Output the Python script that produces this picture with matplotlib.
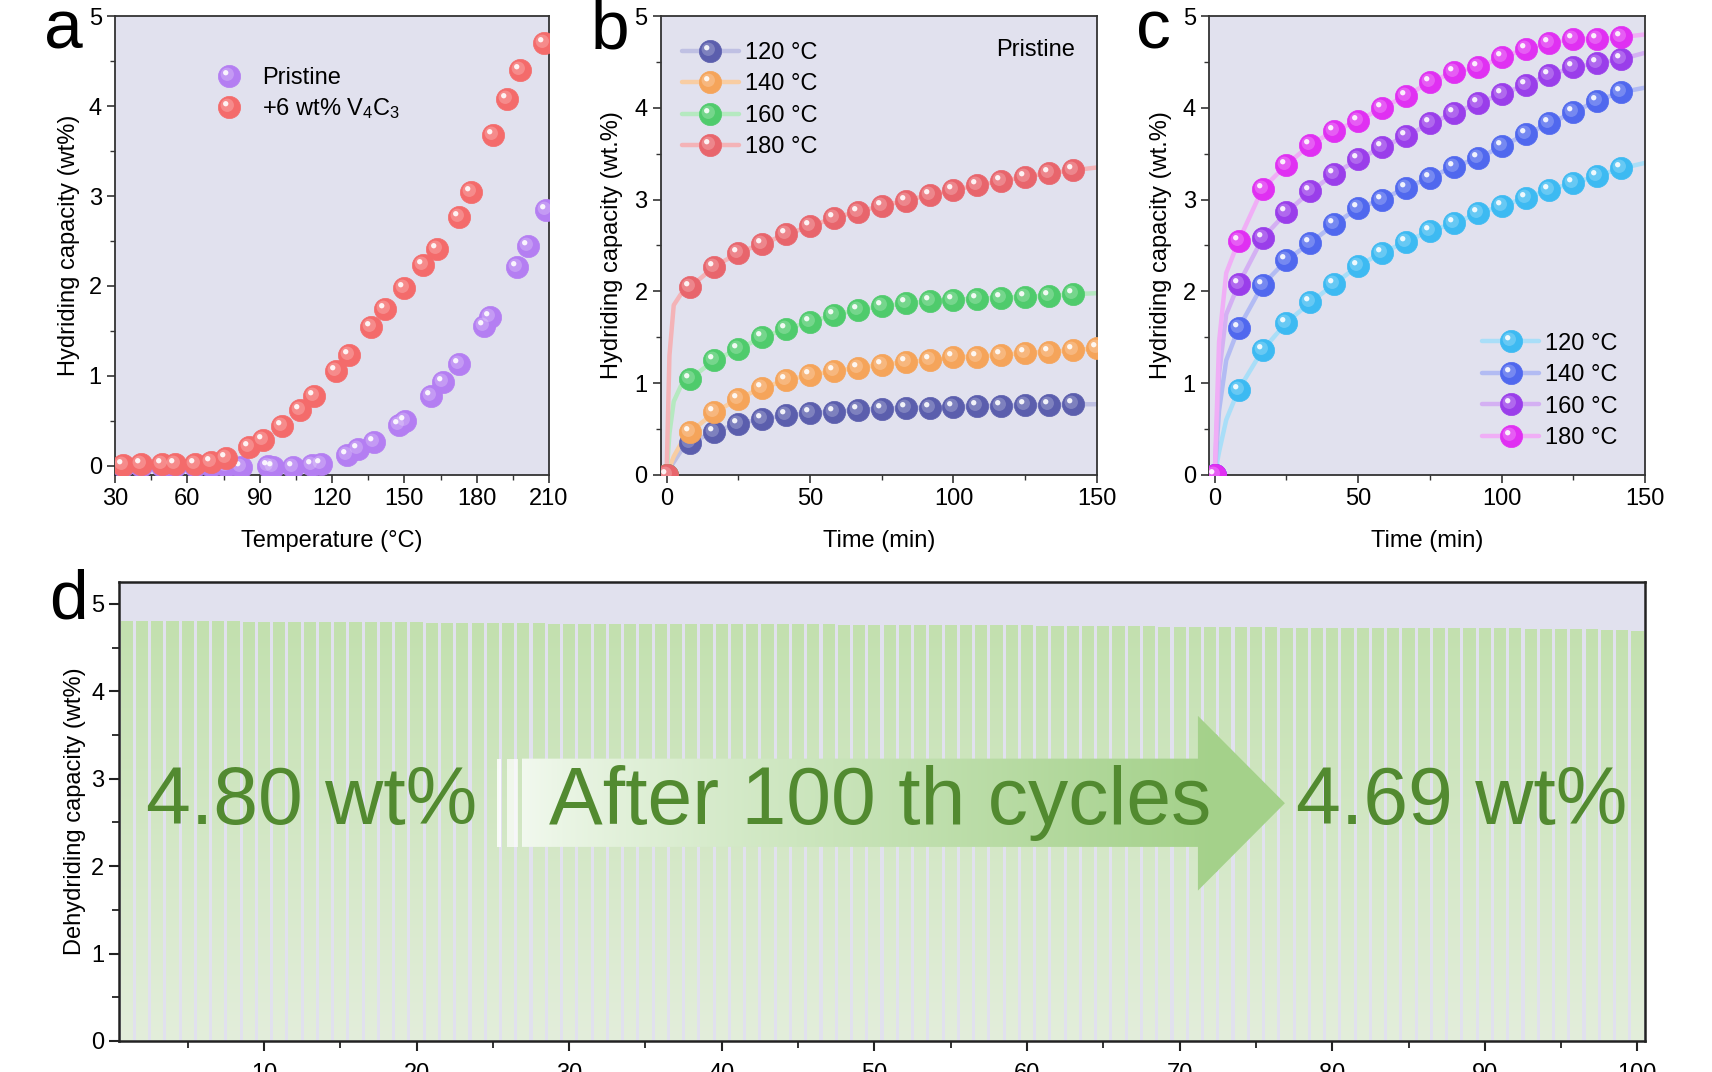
import numpy as np
import matplotlib
matplotlib.use("Agg")
import matplotlib.pyplot as plt
from matplotlib.path import Path
from matplotlib.patches import Polygon, Rectangle
from matplotlib.legend_handler import HandlerTuple
from matplotlib.ticker import MultipleLocator

plt.rcParams['font.family'] = ['Liberation Sans', 'DejaVu Sans']
plt.rcParams['mathtext.fontset'] = 'custom'
plt.rcParams['mathtext.rm'] = 'Liberation Sans'
plt.rcParams['mathtext.it'] = 'Liberation Sans'

# ---- panel a: temperature ramp ----
temp_pristine = [33.5, 40.8, 49.6, 54.7, 63.2, 70.0, 76.2, 82.2, 93.3, 95.5, 103.8, 111.7, 115.5,
                 126.2, 130.9, 137.3, 147.6, 150.3, 161.1, 166.1, 172.5, 183.2, 185.4, 196.7, 201.4, 208.6]
cap_pristine = [0, 0, 0, 0, 0, 0, 0, -0.01, 0, -0.01, -0.01, 0.01, 0.02,
                0.12, 0.19, 0.27, 0.46, 0.50, 0.78, 0.93, 1.13, 1.55, 1.66, 2.21, 2.44, 2.85]
temp_v4c3 = [33.5, 40.8, 49.6, 54.7, 63.2, 70.0, 76.2, 85.7, 91.4, 99.3, 106.9, 112.6, 121.5,
             126.9, 136.1, 141.8, 149.7, 157.7, 163.4, 172.5, 177.7, 186.9, 192.4, 198.1, 207.9]
cap_v4c3 = [0.01, 0.02, 0.02, 0.02, 0.02, 0.04, 0.09, 0.21, 0.29, 0.44, 0.62, 0.78, 1.06,
            1.23, 1.54, 1.74, 1.98, 2.23, 2.41, 2.77, 3.04, 3.68, 4.08, 4.40, 4.70]

# ---- panels b, c: isothermal kinetics ----
time_min = [0, 8.33, 16.67, 25, 33.33, 41.67, 50, 58.33, 66.67, 75, 83.33, 91.67,
            100, 108.33, 116.67, 125, 133.33, 141.67]
temps = ["120 °C", "140 °C", "160 °C", "180 °C"]

b120 = [0, 0.35, 0.47, 0.56, 0.61, 0.65, 0.67, 0.69, 0.71, 0.72, 0.73, 0.73, 0.74, 0.75, 0.75, 0.76, 0.76, 0.77]
b140 = [0, 0.47, 0.68, 0.83, 0.95, 1.03, 1.09, 1.13, 1.17, 1.20, 1.23, 1.25, 1.28, 1.29, 1.31, 1.33, 1.34, 1.36]
b160 = [0, 1.05, 1.25, 1.37, 1.50, 1.59, 1.67, 1.74, 1.80, 1.84, 1.87, 1.89, 1.91, 1.92, 1.93, 1.94, 1.95, 1.97]
b180 = [0, 2.05, 2.27, 2.42, 2.52, 2.62, 2.71, 2.80, 2.87, 2.93, 2.99, 3.05, 3.10, 3.16, 3.20, 3.25, 3.29, 3.32]
b_end = [0.77, 1.38, 1.98, 3.35]          # curve values at 150 min
b140_extra_t, b140_extra_v = [150], [1.38]  # marker sitting on the right axis
b_start_t = [1.0, 2.5, 5.0]                 # early part of the fitted curves
b_start = [[0.06, 0.14, 0.26], [0.08, 0.2, 0.34], [0.45, 0.8, 0.97], [1.3, 1.85, 1.97]]

c120 = [0, 0.93, 1.36, 1.66, 1.88, 2.08, 2.28, 2.42, 2.54, 2.66, 2.74, 2.85, 2.93, 3.02, 3.11, 3.18, 3.26, 3.34]
c140 = [0, 1.60, 2.07, 2.34, 2.53, 2.73, 2.91, 3.00, 3.13, 3.24, 3.36, 3.45, 3.58, 3.71, 3.83, 3.95, 4.08, 4.17]
c160 = [0, 2.08, 2.58, 2.86, 3.09, 3.28, 3.44, 3.57, 3.69, 3.83, 3.94, 4.05, 4.15, 4.25, 4.36, 4.44, 4.49, 4.53]
c180 = [0, 2.55, 3.12, 3.38, 3.60, 3.75, 3.86, 4.00, 4.13, 4.28, 4.39, 4.44, 4.55, 4.64, 4.71, 4.75, 4.75, 4.77]
c_end = [3.40, 4.22, 4.60, 4.80]
c_start_t = [1.5, 4.0]
c_start = [[0.25, 0.6], [0.7, 1.25], [1.1, 1.75], [1.45, 2.2]]

# ---- panel d: cycling ----
cycles = list(range(1, 101))
dehyd = [4.80, 4.80, 4.80, 4.80, 4.80, 4.80, 4.80, 4.80,
         4.79, 4.79, 4.79, 4.79, 4.79, 4.79, 4.79, 4.79, 4.79, 4.79, 4.79, 4.79,
         4.78, 4.78, 4.78, 4.78, 4.78, 4.78, 4.78, 4.78,
         4.77, 4.77, 4.77, 4.77, 4.77, 4.77, 4.77, 4.77, 4.77, 4.77,
         4.77, 4.77, 4.77, 4.77, 4.77, 4.77, 4.77, 4.77, 4.77,
         4.76, 4.76, 4.76, 4.76, 4.76, 4.76, 4.76, 4.76, 4.76, 4.76, 4.76, 4.76, 4.76,
         4.75, 4.75, 4.75, 4.75, 4.75, 4.75, 4.75, 4.75,
         4.74, 4.74, 4.74, 4.74, 4.74, 4.74, 4.74, 4.74,
         4.73, 4.73, 4.73, 4.73, 4.73, 4.73, 4.73, 4.73, 4.73,
         4.72, 4.72, 4.72, 4.72, 4.72, 4.72, 4.72,
         4.71, 4.71, 4.71, 4.71, 4.71,
         4.70, 4.70, 4.69]

bg = '#E1E1EE'
txt_green = '#528A30'


def dot_marker(cx, cy, r):
    # small circle inside the marker box; the corner point keeps the box at +-0.5
    circ = Path.circle((cx, cy), r)
    verts = np.vstack([[[0.5, 0.5]], circ.vertices])
    codes = np.concatenate([[Path.MOVETO], circ.codes])
    return Path(verts, codes)


mid_m = dot_marker(-0.1, 0.1, 0.3)
hi_m = dot_marker(-0.17, 0.17, 0.12)
one = {tuple: HandlerTuple(ndivide=1)}


def spheres(ax, x, y, color, ms=16, z=3):
    h1, = ax.plot(x, y, ls='none', marker='o', ms=ms, mfc=color, mec=color, mew=0.5, zorder=z)
    h2, = ax.plot(x, y, ls='none', marker=mid_m, ms=ms, mfc='white', mew=0, alpha=0.22, zorder=z)
    h3, = ax.plot(x, y, ls='none', marker=hi_m, ms=ms, mfc='white', mew=0, alpha=0.9, zorder=z)
    return (h1, h2, h3)


def style(ax, fs=17):
    ax.set_facecolor(bg)
    for s in ax.spines.values():
        s.set_color('#333333')
        s.set_linewidth(1.3)
    ax.tick_params(which='both', direction='out', top=False, right=False, labelsize=fs,
                   color='#333333')
    ax.tick_params(which='major', length=6, width=1.2)
    ax.tick_params(which='minor', length=3.5, width=1.0)


fig = plt.figure(figsize=(17.12, 10.72), dpi=100)

# ---------------- a ----------------
axa = fig.add_axes([0.0672, 0.557, 0.2535, 0.428])
style(axa)
hp = spheres(axa, temp_pristine, cap_pristine, '#B47EF2')
hr = spheres(axa, temp_v4c3, cap_v4c3, '#F46B6B')
axa.set_xlim(30, 210)
axa.set_ylim(-0.1, 5)
axa.xaxis.set_major_locator(MultipleLocator(30))
axa.xaxis.set_minor_locator(MultipleLocator(15))
axa.yaxis.set_major_locator(MultipleLocator(1))
axa.yaxis.set_minor_locator(MultipleLocator(0.5))
axa.set_xlabel('Temperature (°C)', fontsize=17, labelpad=14)
axa.set_ylabel('Hydriding capacity (wt%)', fontsize=17, labelpad=6)
axa.legend([hp, hr], ['Pristine', '+6 wt% V$_4$C$_3$'], handler_map=one,
           loc='upper left', bbox_to_anchor=(0.18, 0.935), frameon=False, fontsize=17,
           handlelength=1.2, handletextpad=0.8, labelspacing=0.3)

# ---------------- b, c ----------------
b_sets = [b120, b140, b160, b180]
c_sets = [c120, c140, c160, c180]
b_cols = ['#5B5EAD', '#F5A45A', '#4FCB6C', '#E8656C']
b_lcols = ['#BFC0E3', '#F8CDA3', '#B5E9C0', '#F4B3B7']
c_cols = ['#3DBAF2', '#5068EE', '#9A3EEA', '#E030F2']
c_lcols = ['#A9DEF8', '#B2BBF3', '#D4B0F3', '#F0AEF6']


def kinetics(ax, sets, starts, start_t, ends, cols, lcols):
    handles = []
    for vals, st, end, c, lc in zip(sets, starts, ends, cols, lcols):
        lx = [time_min[0]] + start_t + time_min[1:] + [150]
        ly = [vals[0]] + st + vals[1:] + [end]
        ln, = ax.plot(lx, ly, color=lc, lw=3.2, zorder=2, solid_capstyle='round')
        handles.append((ln,) + spheres(ax, time_min, vals, c))
    ax.set_xlim(-2, 150)
    ax.set_ylim(0, 5)
    ax.xaxis.set_major_locator(MultipleLocator(50))
    ax.xaxis.set_minor_locator(MultipleLocator(25))
    ax.yaxis.set_major_locator(MultipleLocator(1))
    ax.yaxis.set_minor_locator(MultipleLocator(0.5))
    ax.set_xlabel('Time (min)', fontsize=17, labelpad=14)
    ax.set_ylabel('Hydriding capacity (wt.%)', fontsize=17, labelpad=8)
    return handles


axb = fig.add_axes([0.386, 0.557, 0.2547, 0.428])
style(axb)
hb = kinetics(axb, b_sets, b_start, b_start_t, b_end, b_cols, b_lcols)
spheres(axb, b140_extra_t, b140_extra_v, b_cols[1])
axb.legend(hb, temps, handler_map=one, loc='upper left',
           bbox_to_anchor=(0.0, 0.99), frameon=False, fontsize=17, handlelength=2.4,
           handletextpad=0.25, labelspacing=0.4)
axb.text(0.86, 0.925, 'Pristine', transform=axb.transAxes, fontsize=17, ha='center', va='center')

axc = fig.add_axes([0.7062, 0.557, 0.2547, 0.428])
style(axc)
hc = kinetics(axc, c_sets, c_start, c_start_t, c_end, c_cols, c_lcols)
axc.legend(hc, temps, handler_map=one, loc='lower right',
           bbox_to_anchor=(0.985, 0.01), frameon=False, fontsize=17, handlelength=2.4,
           handletextpad=0.25, labelspacing=0.4)

# ---------------- d ----------------
axd = fig.add_axes([0.0695, 0.029, 0.8914, 0.428])
axd.set_facecolor(bg)
for s in axd.spines.values():
    s.set_color('#222222')
    s.set_linewidth(1.8)
bars = axd.bar(cycles, dehyd, width=0.8, color='#CBE4BB', edgecolor='none', zorder=1)
grad = np.linspace(0, 1, 256)[:, None]
top_c = np.array(matplotlib.colors.to_rgb('#C2E0AE'))
bot_c = np.array(matplotlib.colors.to_rgb('#E3EEDB'))
img = top_c[None, None, :] * (1 - grad[:, :, None]) + bot_c[None, None, :] * grad[:, :, None]
im = axd.imshow(img, extent=(0.5, 100.5, 0, 4.85), origin='upper', aspect='auto', zorder=1.5)
bar_path = Path.make_compound_path(*[p.get_path().transformed(p.get_patch_transform()) for p in bars])
im.set_clip_path(bar_path, axd.transData)

# arrow with a white-to-green gradient
arrow = Polygon([(26.9, 2.22), (71.2, 2.22), (71.2, 1.72), (76.9, 2.72), (71.2, 3.72),
                 (71.2, 3.23), (26.9, 3.23)], closed=True, facecolor='none', edgecolor='none')
axd.add_patch(arrow)
hx = np.linspace(0, 1, 256)[None, :]
left_c = np.array(matplotlib.colors.to_rgb('#F2F9EF'))
right_c = np.array(matplotlib.colors.to_rgb('#A4D18A'))
aimg = left_c[None, None, :] * (1 - hx[:, :, None] ** 0.8) + right_c[None, None, :] * hx[:, :, None] ** 0.8
aim = axd.imshow(aimg, extent=(26.9, 72.5, 1.72, 3.72), aspect='auto', zorder=3)
aim2 = axd.imshow(np.tile(right_c, (2, 2, 1)), extent=(72.4, 77, 1.72, 3.72), aspect='auto', zorder=3)
aim.set_clip_path(arrow)
aim2.set_clip_path(arrow)
axd.add_patch(Rectangle((25.24, 2.22), 0.26, 1.01, facecolor='white', alpha=0.85, edgecolor='none', zorder=3))
axd.add_patch(Rectangle((25.9, 2.22), 0.75, 1.01, facecolor='white', alpha=0.7, edgecolor='none', zorder=3))

big = dict(fontsize=58, color=txt_green, ha='center', va='center', zorder=4)
axd.text(13.1, 2.72, '4.80 wt%', **big)
axd.text(50.4, 2.72, 'After 100 th cycles', **big)
axd.text(88.5, 2.72, '4.69 wt%', **big)

axd.set_xlim(0.5, 100.5)
axd.set_ylim(0, 5.25)
axd.xaxis.set_major_locator(MultipleLocator(10))
axd.xaxis.set_minor_locator(MultipleLocator(5))
axd.yaxis.set_major_locator(MultipleLocator(1))
axd.yaxis.set_minor_locator(MultipleLocator(0.5))
axd.tick_params(which='both', direction='out', top=False, right=False, color='#222222', labelsize=17)
axd.tick_params(which='major', length=7, width=1.5)
axd.tick_params(which='minor', length=5, width=1.3)
axd.tick_params(axis='x', pad=9)
axd.set_ylabel('Dehydriding capacity (wt%)', fontsize=17, labelpad=4)

# panel letters
for ch, x, y in [('a', 0.037, 0.972), ('b', 0.356, 0.972), ('c', 0.674, 0.972), ('d', 0.040, 0.44)]:
    fig.text(x, y, ch, fontsize=50, ha='center', va='center')

fig.savefig('out.png', dpi=100)
